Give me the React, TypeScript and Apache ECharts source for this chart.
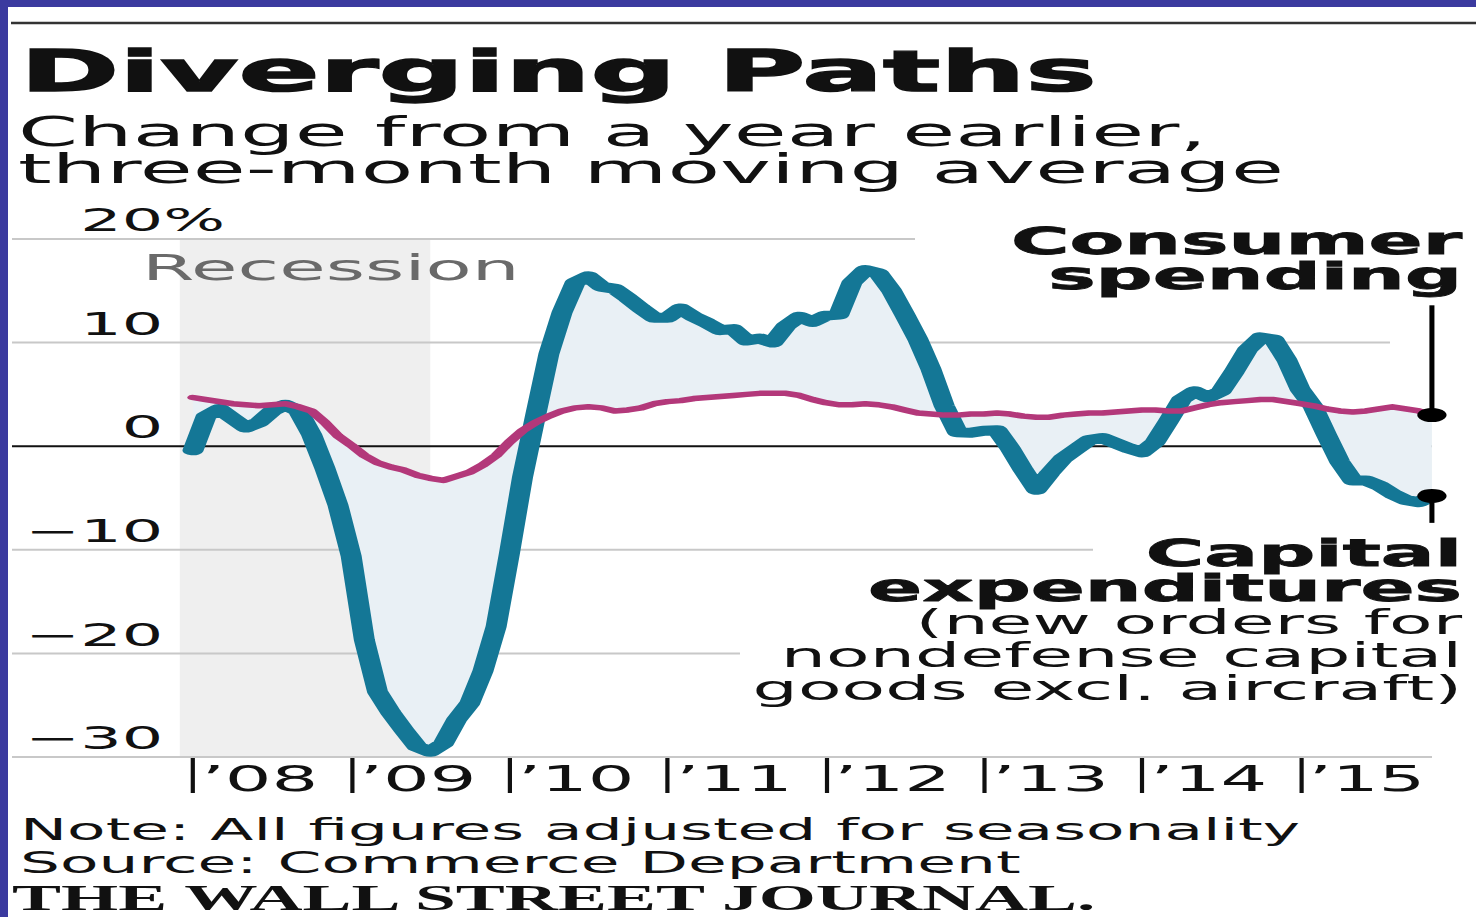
import React, { useEffect, useRef } from "react";
import * as echarts from "echarts";

// ---- layout helpers (reference picture is stretched horizontally) ----
const S = 2.1;
const OX = 8;
const OY = 7;
const CW = (1476 - OX) / S;
const CH = 917 - OY;
const fx = (x: number) => (x - OX) / S;
const fy = (y: number) => y - OY;

const FONT = "'DejaVu Sans', Verdana, sans-serif";
const SERIF = "'Liberation Serif', 'DejaVu Serif', serif";
const BLUE = "#3b3a9f";
const TEAL = "#147796";
const PINK = "#b3387a";
const FILL = "#e9f0f5";
const RECESS = "#efefef";
const GRID = "#c8c8c8";

// ---- data: months since Jan 2008 ----
const capitalExpenditures = [
  -0.4, 2.9, 3.6, 2.7, 1.8, 2.3, 3.4, 4.0, 3.4, 1.1,
  -2.1, -5.7, -10.6, -18.7, -23.7, -25.7, -27.4, -29.0, -29.5, -28.7,
  -26.4, -24.8, -21.7, -17.4, -10.4, -3.0, 3.0, 8.9, 12.9, 15.8,
  16.4, 15.4, 15.2, 14.3, 13.3, 12.4, 12.4, 13.3, 12.5, 11.9,
  11.2, 11.3, 10.2, 10.4, 10.0, 11.6, 12.5, 12.0, 12.6, 12.7,
  15.8, 17.0, 16.7, 15.0, 12.7, 10.3, 7.4, 3.9, 1.35, 1.3,
  1.5, 1.55, -0.2, -2.3, -4.2, -2.6, -1.2, -0.3, 0.6, 0.8,
  0.3, -0.2, -0.6, 0.4, 2.4, 4.5, 5.3, 4.7, 5.3, 7.2,
  9.3, 10.5, 10.3, 8.3, 5.5, 3.8, 1.1, -1.5, -3.3, -3.3,
  -3.8, -4.6, -5.2, -5.4, -4.8,
];
const consumerSpending = [
  4.7, 4.5, 4.3, 4.1, 4.0, 3.9, 4.0, 4.1, 3.8, 3.4,
  2.3, 1.0, 0.1, -0.9, -1.6, -2.0, -2.3, -2.8, -3.1, -3.3,
  -2.9, -2.5, -1.8, -0.9, 0.4, 1.5, 2.3, 2.9, 3.4, 3.7,
  3.8, 3.7, 3.4, 3.5, 3.7, 4.1, 4.3, 4.4, 4.6, 4.7,
  4.8, 4.9, 5.0, 5.1, 5.1, 5.1, 4.9, 4.5, 4.2, 4.0,
  4.0, 4.1, 4.0, 3.8, 3.5, 3.2, 3.1, 3.0, 3.0, 3.1,
  3.1, 3.2, 3.1, 2.9, 2.8, 2.8, 3.0, 3.1, 3.2, 3.2,
  3.3, 3.4, 3.5, 3.5, 3.4, 3.4, 3.7, 4.0, 4.2, 4.3,
  4.4, 4.5, 4.5, 4.3, 4.1, 3.9, 3.6, 3.4, 3.3, 3.4,
  3.6, 3.8, 3.6, 3.4, 3.0,
];
const months = capitalExpenditures.map((_, i) => i);
const LAST = months.length - 1;

const yearTicks = [0, 12, 24, 36, 48, 60, 72, 84];
const yearLabels = ["’08", "’09", "’10", "’11", "’12", "’13", "’14", "’15"];
const recessionStart = -1; // Dec 2007
const recessionEnd = 18; // mid-2009
const yMin = -30;
const yMax = 20;

// axis extent in months (grid spans the full gridline width)
const PX_PER_MONTH = 13.18;
const X0 = 193;
const XMIN = (12 - X0) / PX_PER_MONTH;
const XMAX = (1440 - X0) / PX_PER_MONTH;
const mAt = (xr: number) => (xr - X0) / PX_PER_MONTH;

const fmt = (v: number) => (v < 0 ? "−" + Math.abs(v) : String(v));

const gridLines = [
  { v: 20, to: mAt(915), color: GRID },
  { v: 10, to: mAt(1390), color: GRID },
  { v: 0, to: mAt(1432), color: "#111" },
  { v: -10, to: mAt(1093), color: GRID },
  { v: -20, to: mAt(740), color: GRID },
  { v: -30, to: mAt(1432), color: GRID },
];

function txt(
  text: string,
  xr: number,
  yRef: number,
  size: number,
  opts: {
    weight?: string;
    color?: string;
    align?: string;
    family?: string;
    lineHeight?: number;
    vAlign?: string;
    rich?: any;
    stroke?: number;
  } = {}
) {
  const style: any = {
    text,
    fontSize: size,
    fontFamily: opts.family ?? FONT,
    fontWeight: opts.weight ?? "normal",
    fill: opts.color ?? "#111",
    align: opts.align ?? "left",
    verticalAlign: opts.vAlign ?? "middle",
  };
  if (opts.stroke) {
    style.stroke = opts.color ?? "#111";
    style.lineWidth = opts.stroke;
  }
  if (opts.lineHeight) style.lineHeight = opts.lineHeight;
  if (opts.rich) style.rich = opts.rich;
  return { type: "text", x: fx(xr), y: fy(yRef), silent: true, z: 10, style };
}

export default function App() {
  const ref = useRef<HTMLDivElement>(null);
  useEffect(() => {
    const chart = echarts.init(ref.current!, null, { renderer: "svg", width: CW, height: CH });
    const option: any = {
      animation: false,
      backgroundColor: "#ffffff",
      grid: {
        left: fx(12),
        right: CW - fx(1440),
        top: fy(239),
        bottom: CH - fy(757),
        containLabel: false,
        outerBoundsMode: "none",
      },
      xAxis: {
        type: "value",
        min: XMIN,
        max: XMAX,
        axisLine: { show: false, onZero: false },
        splitLine: { show: false },
        axisTick: {
          show: true,
          customValues: yearTicks,
          length: 36,
          lineStyle: { color: "#111", width: 2 },
        },
        axisLabel: {
          customValues: yearTicks,
          formatter: (v: number) => yearLabels[yearTicks.indexOf(Math.round(v))] ?? "",
          align: "left",
          padding: [0, 0, 0, 4],
          margin: 5,
          fontSize: 35,
          fontFamily: FONT,
          color: "#111",
        },
      },
      yAxis: {
        type: "value",
        min: yMin,
        max: yMax,
        interval: 10,
        axisLine: { show: false },
        axisTick: { show: false },
        splitLine: { show: false },
        axisLabel: {
          inside: true,
          align: "right",
          verticalAlign: "bottom",
          margin: fx(225) - fx(12),
          formatter: (v: number) => (v === yMax ? `{a|${fmt(v)}%}` : `{b|${fmt(v)}}`),
          rich: {
            a: { fontSize: 31, fontFamily: FONT, color: "#111", padding: [0, 0, 3, 0] },
            b: { fontSize: 31, fontFamily: FONT, color: "#111", padding: [0, 29.5, 3, 0] },
          },
        },
      },
      series: [
        {
          type: "custom",
          name: "background",
          z: 1,
          silent: true,
          data: [[0, 0]],
          renderItem: (_p: any, api: any) => {
            const a = api.coord([recessionStart, yMax]);
            const b = api.coord([recessionEnd, yMin]);
            const children: any[] = [
              {
                type: "rect",
                shape: { x: a[0], y: a[1], width: b[0] - a[0], height: b[1] - a[1] },
                style: { fill: RECESS },
              },
            ];
            gridLines.forEach((g) => {
              const p1 = api.coord([XMIN, g.v]);
              const p2 = api.coord([g.to, g.v]);
              children.push({
                type: "line",
                shape: { x1: p1[0], y1: p1[1], x2: p2[0], y2: p2[1] },
                style: { stroke: g.color, lineWidth: 2 },
              });
            });
            return { type: "group", children };
          },
        },
        {
          type: "custom",
          name: "gap",
          z: 2,
          silent: true,
          data: [[0, 0]],
          renderItem: (_p: any, api: any) => {
            const fwd = months.map((m, i) => api.coord([m, capitalExpenditures[i]]));
            const back = months.map((m, i) => api.coord([m, consumerSpending[i]])).reverse();
            return { type: "polygon", shape: { points: fwd.concat(back) }, style: { fill: FILL } };
          },
        },
        {
          type: "line",
          name: "Capital expenditures",
          z: 3,
          silent: true,
          showSymbol: false,
          symbol: "none",
          data: months.map((m, i) => [m, capitalExpenditures[i]]),
          lineStyle: { color: TEAL, width: 10, cap: "round", join: "round" },
        },
        {
          type: "line",
          name: "Consumer spending",
          z: 4,
          silent: true,
          showSymbol: false,
          symbol: "none",
          data: months.map((m, i) => [m, consumerSpending[i]]),
          lineStyle: { color: PINK, width: 5.5, cap: "round", join: "round" },
        },
        {
          type: "custom",
          name: "callouts",
          z: 5,
          silent: true,
          data: [[0, 0]],
          renderItem: (_p: any, api: any) => {
            const c = api.coord([LAST, consumerSpending[LAST]]);
            const k = api.coord([LAST, capitalExpenditures[LAST]]);
            const top = api.coord([LAST, 13.6]);
            const bot = api.coord([LAST, -7.4]);
            const ls = { stroke: "#000", lineWidth: 2.4 };
            return {
              type: "group",
              children: [
                { type: "line", shape: { x1: top[0], y1: top[1], x2: c[0], y2: c[1] }, style: ls },
                { type: "line", shape: { x1: k[0], y1: k[1], x2: bot[0], y2: bot[1] }, style: ls },
                { type: "circle", shape: { cx: c[0], cy: c[1], r: 7 }, style: { fill: "#000" } },
                { type: "circle", shape: { cx: k[0], cy: k[1], r: 7 }, style: { fill: "#000" } },
              ],
            };
          },
        },
      ],
      graphic: [
        {
          type: "line",
          silent: true,
          shape: { x1: fx(11), y1: fy(23), x2: CW, y2: fy(23) },
          style: { stroke: "#333", lineWidth: 2.5 },
        },
        txt("Diverging Paths", 20, 71.5, 57, { weight: "bold", stroke: 1.4 }),
        txt("Change from a year earlier,\nthree-month moving average", 18, 113, 41, {
          lineHeight: 37,
          vAlign: "top",
        }),
        txt("Recession", 142, 268, 36, { color: "#6a6a6a" }),
        txt("Consumer\nspending", 1462, 223.5, 38, {
          weight: "bold",
          align: "right",
          lineHeight: 35,
          vAlign: "top",
          stroke: 0.8,
        }),
        txt(
          "{b|Capital}\n{b|expenditures}\n{r|(new orders for}\n{r|nondefense capital}\n{r|goods excl. aircraft)}",
          1462,
          535.5,
          34,
          {
            align: "right",
            vAlign: "top",
            rich: {
              b: {
                fontSize: 38,
                fontWeight: "bold",
                fontFamily: FONT,
                fill: "#111",
                stroke: "#111",
                lineWidth: 0.8,
                lineHeight: 35,
                align: "right",
              },
              r: { fontSize: 34, fontWeight: "normal", fontFamily: FONT, fill: "#111", lineHeight: 33, align: "right" },
            },
          }
        ),
        txt("Note: All figures adjusted for seasonality\nSource: Commerce Department", 20, 813.5, 30, {
          lineHeight: 33,
          vAlign: "top",
        }),
        txt("THE WALL STREET JOURNAL.", 12, 898.5, 35, { weight: "bold", family: SERIF }),
      ],
    };
    chart.setOption(option);
    return () => chart.dispose();
  }, []);

  return (
    <div
      style={{
        position: "fixed",
        left: 0,
        top: 0,
        width: 1476,
        height: 917,
        background: BLUE,
        overflow: "hidden",
      }}
    >
      <div
        ref={ref}
        style={{
          position: "absolute",
          left: OX,
          top: OY,
          width: CW,
          height: CH,
          background: "#fff",
          transform: `scaleX(${S})`,
          transformOrigin: "0 0",
        }}
      />
    </div>
  );
}
